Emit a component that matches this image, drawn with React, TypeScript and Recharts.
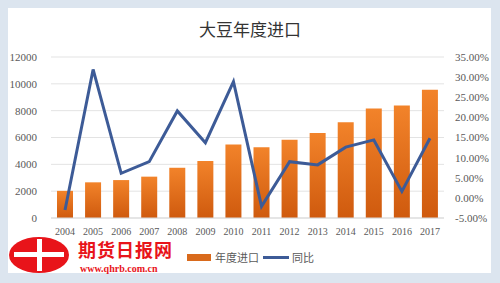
import { ComposedChart, Bar, Line, XAxis, YAxis, CartesianGrid } from 'recharts';

const years = ['2004', '2005', '2006', '2007', '2008', '2009', '2010', '2011', '2012', '2013', '2014', '2015', '2016', '2017'];
const imports = [2023, 2659, 2827, 3082, 3744, 4255, 5480, 5264, 5838, 6338, 7140, 8169, 8391, 9553];
const yoy = [-3.0, 31.9, 6.1, 9.0, 21.6, 13.7, 28.9, -2.1, 9.0, 8.2, 12.6, 14.4, 1.6, 14.8];
const leftTicks = [0, 2000, 4000, 6000, 8000, 10000, 12000];
const rightTicks = [-5, 0, 5, 10, 15, 20, 25, 30, 35];

const data = years.map((y, i) => ({ year: y, imports: imports[i], yoy: yoy[i] }));

const tickStyle = { fill: '#595959', fontSize: 11, fontFamily: '"Liberation Serif", serif' };
const xTickStyle = { ...tickStyle, fontSize: 10 };

export default function App() {
  return (
    <div style={{ position: 'absolute', left: 0, top: 0, width: 500, height: 283, background: '#dce5ef', overflow: 'hidden' }}>
      <div style={{ position: 'absolute', left: 8, top: 8, width: 483, height: 265, background: '#ffffff' }} />
      <div style={{ position: 'absolute', left: 0, top: 0, width: 500, height: 283 }}>
        <ComposedChart width={500} height={283} data={data} margin={{ top: 57, right: 8, bottom: 45, left: 8 }}>
          <defs>
            <linearGradient id="barFill" x1="0" y1="0" x2="0" y2="1">
              <stop offset="0%" stopColor="#f2832a" />
              <stop offset="100%" stopColor="#cf5a0e" />
            </linearGradient>
          </defs>
          <CartesianGrid yAxisId="left" vertical={false} stroke="#e3e3e3" />
          <XAxis dataKey="year" tick={xTickStyle} tickLine={false} axisLine={{ stroke: '#d9d9d9' }} height={20} interval={0} tickMargin={4} />
          <YAxis yAxisId="left" domain={[0, 12000]} ticks={leftTicks} tick={tickStyle} axisLine={false} tickLine={false} width={43} tickMargin={8} />
          <YAxis
            yAxisId="right"
            orientation="right"
            domain={[-5, 35]}
            ticks={rightTicks}
            tick={tickStyle}
            axisLine={false}
            tickLine={false}
            width={48}
            tickMargin={5}
            tickFormatter={(v: number) => `${v.toFixed(2)}%`}
          />
          <Bar yAxisId="left" dataKey="imports" fill="url(#barFill)" barSize={16} isAnimationActive={false} />
          <Line yAxisId="right" dataKey="yoy" type="linear" stroke="#3d5b97" strokeWidth={3} dot={false} isAnimationActive={false} />
        </ComposedChart>
      </div>

      <div style={{ position: 'absolute', left: 0, width: 500, top: 16, textAlign: 'center', fontSize: 17, color: '#333', fontFamily: '"Noto Sans CJK SC", sans-serif' }}>
        大豆年度进口
      </div>

      {/* legend */}
      <div style={{ position: 'absolute', left: 187, top: 249, display: 'flex', alignItems: 'center', fontSize: 11, color: '#595959', fontFamily: '"Noto Sans CJK SC", sans-serif' }}>
        <span style={{ display: 'inline-block', width: 24, height: 7, background: '#d96a1c', marginRight: 4 }} />
        <span>年度进口</span>
        <span style={{ display: 'inline-block', width: 26, height: 3, background: '#3d5b97', margin: '0 3px 0 4px' }} />
        <span>同比</span>
      </div>

      {/* qhrb logo */}
      <svg style={{ position: 'absolute', left: 8, top: 236 }} width={66} height={40}>
        <ellipse cx={31} cy={19} rx={30} ry={18} fill="#e8141a" />
        <rect x={6} y={16} width={50} height={5} fill="#fff" />
        <rect x={29} y={3} width={5} height={32} fill="#fff" />
      </svg>
      <div style={{ position: 'absolute', left: 78, top: 240, fontSize: 18, fontWeight: 'bold', color: '#e8141a', fontFamily: '"Noto Sans CJK SC", sans-serif', lineHeight: '18px', letterSpacing: 1 }}>
        期货日报网
      </div>
      <div style={{ position: 'absolute', left: 80, top: 264, fontSize: 10, fontWeight: 'bold', color: '#e8141a', fontFamily: '"Liberation Serif", serif', lineHeight: '10px' }}>
        www.qhrb.com.cn
      </div>
    </div>
  );
}
